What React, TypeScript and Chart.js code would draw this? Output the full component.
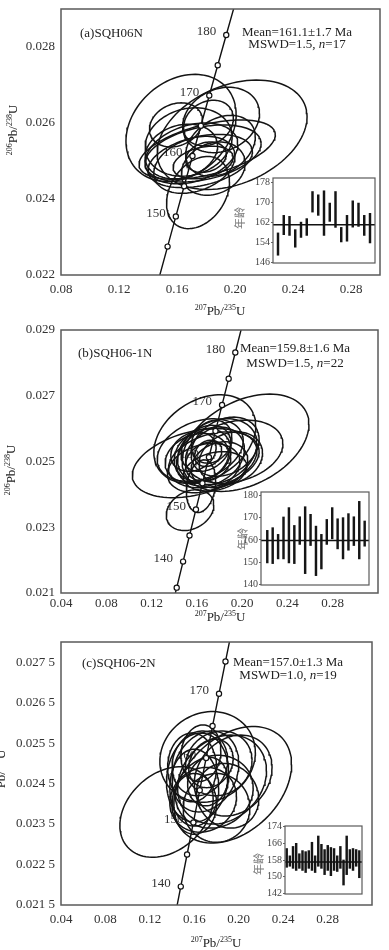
import React, { useEffect, useRef } from 'react';
import { Chart, registerables } from 'chart.js';

Chart.register(...registerables);

const SERIF = '"Liberation Serif", "Times New Roman", serif';
const CJK = '"Noto Sans CJK SC", "Noto Sans CJK JP", sans-serif';
Chart.defaults.font.family = SERIF;

// U-Pb decay constants (per year)
const LAMBDA_238 = 1.55125e-10;
const LAMBDA_235 = 9.8485e-10;
const r206_238 = (ma: number) => Math.exp(LAMBDA_238 * ma * 1e6) - 1;
const r207_235 = (ma: number) => Math.exp(LAMBDA_235 * ma * 1e6) - 1;

// ages (Ma) used to trace the concordia curve
const concordiaCurveAges = [110, 120, 130, 135, 140, 145, 150, 155, 160, 165, 170, 175, 180, 185, 190, 200, 210];

// ---------------- Panel (a) SQH06N ----------------
const aXTicks = [0.08, 0.12, 0.16, 0.2, 0.24, 0.28];
const aYTicks = [0.022, 0.024, 0.026, 0.028];
const aMarkerAges = [145, 150, 155, 160, 165, 170, 175, 180];
const aLabelAges = [150, 160, 170, 180];
const aEllX = [0.1628, 0.198, 0.1904, 0.1817, 0.1593, 0.1808, 0.178, 0.17, 0.163, 0.1745, 0.178, 0.18, 0.172, 0.19, 0.168, 0.185, 0.176];
const aEllY = [0.02587, 0.02569, 0.02608, 0.026, 0.02595, 0.0253, 0.0252, 0.0252, 0.02525, 0.02417, 0.02496, 0.0251, 0.0249, 0.0254, 0.0255, 0.0248, 0.025];
const aEllSx = [0.038, 0.0517, 0.0265, 0.0172, 0.0183, 0.047, 0.04, 0.032, 0.025, 0.0217, 0.0207, 0.014, 0.028, 0.024, 0.03, 0.022, 0.036];
const aEllSy = [0.00141, 0.00144, 0.00086, 0.0006, 0.00058, 0.00078, 0.00075, 0.0008, 0.00072, 0.00095, 0.00043, 0.0004, 0.00075, 0.0008, 0.0009, 0.0007, 0.0007];
const aEllRho = [0.25, 0.33, 0.2, 0.2, 0.2, 0.5, 0.35, 0.3, 0.2, 0.3, 0.3, 0.2, 0.3, 0.3, 0.15, 0.2, 0.35];
const aAgeLow = [148.9, 157.1, 156.8, 152.1, 156.0, 156.8, 166.1, 164.8, 156.8, 162.4, 160.0, 154.2, 154.5, 160.1, 160.4, 156.8, 153.8];
const aAgeHigh = [157.8, 164.8, 164.4, 159.1, 162.1, 163.5, 174.3, 173.0, 174.6, 169.7, 174.3, 160.0, 164.8, 170.6, 169.7, 164.8, 165.6];
const aInsetTicks = [146, 154, 162, 170, 178];
const aMean = 161.1;

// ---------------- Panel (b) SQH06-1N ----------------
const bXTicks = [0.04, 0.08, 0.12, 0.16, 0.2, 0.24, 0.28];
const bYTicks = [0.021, 0.023, 0.025, 0.027, 0.029];
const bMarkerAges = [135, 140, 145, 150, 155, 160, 165, 170, 175, 180];
const bLabelAges = [140, 150, 160, 170, 180];
const bEllX = [0.158, 0.203, 0.167, 0.193, 0.154, 0.1637, 0.172, 0.165, 0.178, 0.17, 0.168, 0.175, 0.16, 0.185, 0.173, 0.166, 0.18, 0.17, 0.163, 0.176, 0.19, 0.157];
const bEllY = [0.02495, 0.02557, 0.02568, 0.0253, 0.02352, 0.02425, 0.02515, 0.0252, 0.0253, 0.025, 0.0254, 0.02505, 0.0251, 0.02545, 0.0256, 0.0248, 0.0249, 0.02525, 0.02535, 0.0247, 0.0251, 0.0253];
const bEllSx = [0.055, 0.056, 0.045, 0.043, 0.021, 0.013, 0.03, 0.025, 0.035, 0.02, 0.022, 0.04, 0.028, 0.03, 0.018, 0.032, 0.025, 0.012, 0.038, 0.028, 0.028, 0.02];
const bEllSy = [0.00105, 0.00148, 0.00135, 0.00096, 0.00062, 0.0008, 0.0009, 0.0008, 0.001, 0.0006, 0.0007, 0.00085, 0.00075, 0.0009, 0.00065, 0.00075, 0.0007, 0.0004, 0.00095, 0.0006, 0.0008, 0.0006];
const bEllRho = [0.35, 0.38, 0.3, 0.25, 0.25, 0.2, 0.25, 0.2, 0.25, 0.2, 0.25, 0.3, 0.2, 0.25, 0.2, 0.25, 0.2, 0.2, 0.3, 0.25, 0.2, 0.2];
const bAgeLow = [149.7, 149.4, 151.5, 151.5, 149.7, 149.4, 158.0, 144.9, 157.5, 144.0, 147.0, 158.0, 160.5, 156.0, 151.5, 155.4, 157.5, 151.5, 157.2];
const bAgeHigh = [164.3, 165.5, 162.5, 170.3, 174.5, 166.5, 170.4, 174.9, 171.5, 166.2, 162.5, 169.2, 174.5, 169.5, 170.0, 171.8, 170.4, 177.3, 168.5];
const bInsetTicks = [140, 150, 160, 170, 180];
const bMean = 159.8;

// ---------------- Panel (c) SQH06-2N ----------------
const cXTicks = [0.04, 0.08, 0.12, 0.16, 0.2, 0.24, 0.28];
const cYTicks = [0.0215, 0.0225, 0.0235, 0.0245, 0.0255, 0.0265, 0.0275];
const cMarkerAges = [140, 145, 150, 155, 160, 165, 170, 175];
const cLabelAges = [140, 150, 160, 170];
const cEllX = [0.135, 0.1946, 0.172, 0.165, 0.17, 0.16, 0.178, 0.185, 0.168, 0.175, 0.158, 0.18, 0.163, 0.19, 0.172, 0.166, 0.182, 0.16, 0.195];
const cEllY = [0.0238, 0.02447, 0.02516, 0.025, 0.0248, 0.0244, 0.0243, 0.0246, 0.0241, 0.025, 0.0249, 0.0239, 0.02465, 0.0242, 0.02455, 0.02525, 0.025, 0.024, 0.0247];
const cEllSx = [0.042, 0.053, 0.043, 0.025, 0.03, 0.022, 0.035, 0.04, 0.03, 0.02, 0.022, 0.03, 0.028, 0.028, 0.018, 0.018, 0.03, 0.02, 0.035];
const cEllSy = [0.00112, 0.00144, 0.00112, 0.0008, 0.001, 0.00095, 0.0009, 0.0011, 0.0008, 0.0006, 0.00085, 0.00085, 0.0011, 0.0008, 0.0006, 0.0007, 0.0008, 0.00075, 0.001];
const cEllRho = [0.3, 0.35, 0.1, 0.1, 0.2, 0.0, 0.1, 0.2, 0.1, 0.2, 0.0, 0.0, 0.1, -0.1, 0.1, 0.1, 0.1, 0.0, 0.2];
const cAgeLow = [154.5, 155, 154, 153, 154, 153, 152, 154, 153, 152, 155, 154, 151, 153, 150.5, 153, 152.5, 154, 146, 151, 154, 153, 155, 149.5];
const cAgeHigh = [163.5, 160, 164.5, 166, 161, 162.5, 162, 162.5, 166.5, 160, 169.5, 165.5, 163, 165, 164, 163.5, 160, 164.5, 158, 169.5, 163, 163.5, 163, 162.5];
const cInsetTicks = [142, 150, 158, 166, 174];
const cMean = 157.0;

type Seg = { t: string; sup?: boolean; it?: boolean };

function drawRich(
  ctx: CanvasRenderingContext2D,
  segs: Seg[],
  x: number,
  y: number,
  align: 'left' | 'center' | 'right',
  size: number,
  color: string,
  rotate = false
) {
  ctx.save();
  ctx.translate(x, y);
  if (rotate) ctx.rotate(-Math.PI / 2);
  const supSize = Math.round(size * 0.62);
  const fontOf = (s: Seg) => `${s.it ? 'italic ' : ''}${s.sup ? supSize : size}px ${SERIF}`;
  let w = 0;
  for (const s of segs) {
    ctx.font = fontOf(s);
    w += ctx.measureText(s.t).width;
  }
  let cx = align === 'left' ? 0 : align === 'center' ? -w / 2 : -w;
  ctx.fillStyle = color;
  ctx.textAlign = 'left';
  ctx.textBaseline = 'alphabetic';
  for (const s of segs) {
    ctx.font = fontOf(s);
    ctx.fillText(s.t, cx, s.sup ? -size * 0.4 : 0);
    cx += ctx.measureText(s.t).width;
  }
  ctx.restore();
}

function ellipsePts(cx: number, cy: number, sx: number, sy: number, rho: number) {
  const pts: { x: number; y: number }[] = [];
  const k = Math.sqrt(1 - rho * rho);
  const N = 96;
  for (let i = 0; i <= N; i++) {
    const t = (i / N) * 2 * Math.PI;
    pts.push({ x: cx + sx * Math.cos(t), y: cy + sy * (rho * Math.cos(t) + k * Math.sin(t)) });
  }
  return pts;
}

interface PanelDef {
  top: number;
  height: number;
  area: { left: number; right: number; top: number; bottom: number };
  xMin: number; xMax: number; yMin: number; yMax: number;
  xTicks: number[]; yTicks: number[];
  yFmt: (v: number) => string;
  ellX: number[]; ellY: number[]; ellSx: number[]; ellSy: number[]; ellRho: number[];
  markerAges: number[]; labelAges: number[];
  name: string; mean: string; mswd: string; n: string;
  namePos: [number, number]; meanPos: [number, number]; mswdPos: [number, number];
  yTitle: [number, number]; xTitle: [number, number]; xTickPad: number;
}

interface InsetDef {
  left: number; top: number; width: number; height: number;
  box: { left: number; right: number; top: number; bottom: number };
  yMin: number; yMax: number; xMin: number; xMax: number;
  ticks: number[]; low: number[]; high: number[]; mean: number;
  labelPos: [number, number];
}

const fmt3 = (v: number) => v.toFixed(3);
const fmt4s = (v: number) => {
  const s = v.toFixed(4);
  return s.slice(0, 5) + ' ' + s.slice(5);
};

const PANELS: PanelDef[] = [
  {
    top: 0, height: 320,
    area: { left: 61, right: 380, top: 9, bottom: 275 },
    xMin: 0.08, xMax: 0.3, yMin: 0.022, yMax: 0.029,
    xTicks: aXTicks, yTicks: aYTicks, yFmt: fmt3,
    ellX: aEllX, ellY: aEllY, ellSx: aEllSx, ellSy: aEllSy, ellRho: aEllRho,
    markerAges: aMarkerAges, labelAges: aLabelAges,
    name: '(a)SQH06N', mean: 'Mean=161.1\u00b11.7 Ma', mswd: 'MSWD=1.5, ', n: '=17',
    namePos: [80, 37], meanPos: [297, 36], mswdPos: [297, 48],
    yTitle: [17, 130], xTitle: [220, 315], xTickPad: 7,
  },
  {
    top: 320, height: 310,
    area: { left: 61, right: 378, top: 330, bottom: 593 },
    xMin: 0.04, xMax: 0.32, yMin: 0.021, yMax: 0.029,
    xTicks: bXTicks, yTicks: bYTicks, yFmt: fmt3,
    ellX: bEllX, ellY: bEllY, ellSx: bEllSx, ellSy: bEllSy, ellRho: bEllRho,
    markerAges: bMarkerAges, labelAges: bLabelAges,
    name: '(b)SQH06-1N', mean: 'Mean=159.8\u00b11.6 Ma', mswd: 'MSWD=1.5, ', n: '=22',
    namePos: [78, 357], meanPos: [295, 352], mswdPos: [295, 367],
    yTitle: [15, 470], xTitle: [220, 621], xTickPad: 3,
  },
  {
    top: 630, height: 320,
    area: { left: 61, right: 372, top: 642, bottom: 905 },
    xMin: 0.04, xMax: 0.32, yMin: 0.0215, yMax: 0.028,
    xTicks: cXTicks, yTicks: cYTicks, yFmt: fmt4s,
    ellX: cEllX, ellY: cEllY, ellSx: cEllSx, ellSy: cEllSy, ellRho: cEllRho,
    markerAges: cMarkerAges, labelAges: cLabelAges,
    name: '(c)SQH06-2N', mean: 'Mean=157.0\u00b11.3 Ma', mswd: 'MSWD=1.0, ', n: '=19',
    namePos: [82, 667], meanPos: [288, 666], mswdPos: [288, 679],
    yTitle: [5, 775], xTitle: [216, 947], xTickPad: 7,
  },
];

const INSETS: InsetDef[] = [
  {
    left: 225, top: 170, width: 160, height: 100,
    box: { left: 273, right: 375, top: 178, bottom: 263 },
    yMin: 145.8, yMax: 179.7, xMin: 0.13, xMax: 17.87,
    ticks: aInsetTicks, low: aAgeLow, high: aAgeHigh, mean: aMean,
    labelPos: [240, 218],
  },
  {
    left: 225, top: 480, width: 155, height: 115,
    box: { left: 261, right: 369, top: 492, bottom: 585 },
    yMin: 139.8, yMax: 181.5, xMin: -0.16, xMax: 19.8,
    ticks: bInsetTicks, low: bAgeLow, high: bAgeHigh, mean: bMean,
    labelPos: [243, 539],
  },
  {
    left: 240, top: 815, width: 135, height: 90,
    box: { left: 285, right: 362, top: 826, bottom: 894 },
    yMin: 141.7, yMax: 174.3, xMin: 0.46, xMax: 24.85,
    ticks: cInsetTicks, low: cAgeLow, high: cAgeHigh, mean: cMean,
    labelPos: [259, 864],
  },
];

const W = 389;

function buildMain(canvas: HTMLCanvasElement, p: PanelDef) {
  const datasets: any[] = [];
  datasets.push({
    data: p.markerAges.map((a) => ({ x: r207_235(a), y: r206_238(a) })),
    showLine: false,
    pointRadius: 2.6,
    pointBackgroundColor: '#ffffff',
    pointBorderColor: '#111111',
    pointBorderWidth: 1.2,
  });
  p.ellX.forEach((cx, i) => {
    datasets.push({
      data: ellipsePts(cx, p.ellY[i], p.ellSx[i], p.ellSy[i], p.ellRho[i]),
      showLine: true,
      pointRadius: 0,
      borderColor: '#141414',
      borderWidth: 1.5,
      tension: 0,
    });
  });
  datasets.push({
    data: concordiaCurveAges.map((a) => ({ x: r207_235(a), y: r206_238(a) })),
    showLine: true,
    pointRadius: 0,
    borderColor: '#111111',
    borderWidth: 1.4,
    tension: 0,
  });

  const areaTop = p.area.top - p.top;
  const areaBottom = p.area.bottom - p.top;
  const off = p.top;

  const deco = {
    id: 'deco' + p.top,
    beforeDatasetsDraw(chart: any) {
      const ctx = chart.ctx as CanvasRenderingContext2D;
      const xs = chart.scales.x, ys = chart.scales.y;
      ctx.save();
      ctx.font = `13px ${SERIF}`;
      ctx.fillStyle = '#333';
      ctx.textAlign = 'right';
      ctx.textBaseline = 'middle';
      p.labelAges.forEach((a) => {
        const px = xs.getPixelForValue(r207_235(a));
        const py = ys.getPixelForValue(r206_238(a));
        ctx.fillText(String(a), px - 10, py - 3);
      });
      ctx.restore();
    },
    afterDraw(chart: any) {
      const ctx = chart.ctx as CanvasRenderingContext2D;
      const ca = chart.chartArea;
      ctx.save();
      ctx.strokeStyle = '#5a5a5a';
      ctx.lineWidth = 1.5;
      ctx.strokeRect(ca.left, ca.top, ca.right - ca.left, ca.bottom - ca.top);
      ctx.restore();
      drawRich(ctx, [{ t: p.name }], p.namePos[0], p.namePos[1] - off, 'left', 13, '#222');
      drawRich(ctx, [{ t: p.mean }], p.meanPos[0], p.meanPos[1] - off, 'center', 13, '#222');
      drawRich(ctx, [{ t: p.mswd }, { t: 'n', it: true }, { t: p.n }], p.mswdPos[0], p.mswdPos[1] - off, 'center', 13, '#222');
      drawRich(ctx, [{ t: '207', sup: true }, { t: 'Pb/' }, { t: '235', sup: true }, { t: 'U' }], p.xTitle[0], p.xTitle[1] - off, 'center', 13, '#222');
      drawRich(ctx, [{ t: '206', sup: true }, { t: 'Pb/' }, { t: '238', sup: true }, { t: 'U' }], p.yTitle[0], p.yTitle[1] - off, 'center', 13, '#222', true);
    },
  };

  return new Chart(canvas, {
    type: 'scatter',
    data: { datasets },
    options: {
      animation: false,
      responsive: false,
      events: [],
      layout: { padding: { left: 0, top: areaTop, right: W - p.area.right, bottom: 0 } },
      plugins: { legend: { display: false }, tooltip: { enabled: false }, title: { display: false } },
      scales: {
        x: {
          type: 'linear',
          min: p.xMin,
          max: p.xMax,
          grid: { display: false, drawTicks: false },
          border: { display: false },
          afterBuildTicks: (s: any) => {
            s.ticks = p.xTicks.map((v) => ({ value: v }));
          },
          afterFit: (s: any) => {
            s.height = p.height - areaBottom;
            s.paddingLeft = 0;
            s.paddingRight = 0;
          },
          ticks: {
            padding: p.xTickPad,
            color: '#333',
            font: { family: SERIF, size: 13 },
            maxRotation: 0,
            autoSkip: false,
            callback: (v: any) => Number(v).toFixed(2),
          },
        },
        y: {
          type: 'linear',
          min: p.yMin,
          max: p.yMax,
          grid: { display: false, drawTicks: false },
          border: { display: false },
          afterBuildTicks: (s: any) => {
            s.ticks = p.yTicks.map((v) => ({ value: v }));
          },
          afterFit: (s: any) => {
            s.width = p.area.left;
            s.paddingTop = 0;
            s.paddingBottom = 0;
          },
          ticks: {
            padding: 6,
            color: '#333',
            font: { family: SERIF, size: 13 },
            autoSkip: false,
            callback: (v: any) => p.yFmt(Number(v)),
          },
        },
      },
    } as any,
    plugins: [deco],
  } as any);
}

function buildInset(canvas: HTMLCanvasElement, d: InsetDef) {
  const boxLeft = d.box.left - d.left;
  const boxRight = d.box.right - d.left;
  const boxTop = d.box.top - d.top;
  const boxBottom = d.box.bottom - d.top;
  const deco = {
    id: 'insetDeco' + d.top,
    beforeDraw(chart: any) {
      const ctx = chart.ctx as CanvasRenderingContext2D;
      const ca = chart.chartArea;
      ctx.save();
      ctx.fillStyle = '#ffffff';
      ctx.fillRect(ca.left, ca.top, ca.right - ca.left, ca.bottom - ca.top);
      ctx.restore();
    },
    afterDraw(chart: any) {
      const ctx = chart.ctx as CanvasRenderingContext2D;
      const ca = chart.chartArea;
      ctx.save();
      ctx.strokeStyle = '#5a5a5a';
      ctx.lineWidth = 1.2;
      ctx.strokeRect(ca.left, ca.top, ca.right - ca.left, ca.bottom - ca.top);
      ctx.translate(d.labelPos[0] - d.left, d.labelPos[1] - d.top);
      ctx.rotate(-Math.PI / 2);
      ctx.font = `11px ${CJK}`;
      ctx.fillStyle = '#7a7a7a';
      ctx.textAlign = 'center';
      ctx.textBaseline = 'middle';
      ctx.fillText('年龄', 0, 0);
      ctx.restore();
    },
  };
  return new Chart(canvas, {
    type: 'bar',
    data: {
      datasets: [
        {
          type: 'line',
          data: [
            { x: d.xMin, y: d.mean },
            { x: d.xMax, y: d.mean },
          ],
          borderColor: '#111111',
          borderWidth: 1.5,
          pointRadius: 0,
          tension: 0,
        },
        {
          type: 'bar',
          data: d.low.map((lo, i) => ({ x: i + 1, y: [lo, d.high[i]] })),
          backgroundColor: '#151515',
          borderWidth: 0,
          barThickness: 1.8,
        },
      ],
    },
    options: {
      animation: false,
      responsive: false,
      events: [],
      layout: { padding: { left: 0, top: boxTop, right: d.width - boxRight, bottom: d.height - boxBottom } },
      plugins: { legend: { display: false }, tooltip: { enabled: false } },
      scales: {
        x: { type: 'linear', min: d.xMin, max: d.xMax, display: false, offset: false },
        y: {
          type: 'linear',
          min: d.yMin,
          max: d.yMax,
          grid: { display: true, drawOnChartArea: false, drawTicks: true, tickLength: 2, color: '#666' },
          border: { display: false },
          afterBuildTicks: (s: any) => {
            s.ticks = d.ticks.map((v) => ({ value: v }));
          },
          afterFit: (s: any) => {
            s.width = boxLeft;
            s.paddingTop = 0;
            s.paddingBottom = 0;
          },
          ticks: {
            padding: 1,
            color: '#444',
            font: { family: SERIF, size: 10 },
            autoSkip: false,
            callback: (v: any) => String(Math.round(Number(v))),
          },
        },
      },
    } as any,
    plugins: [deco],
  } as any);
}

export default function App() {
  const mainRefs = useRef<(HTMLCanvasElement | null)[]>([]);
  const insetRefs = useRef<(HTMLCanvasElement | null)[]>([]);

  useEffect(() => {
    const charts: Chart[] = [];
    PANELS.forEach((p, i) => {
      const c = mainRefs.current[i];
      if (c) charts.push(buildMain(c, p));
    });
    INSETS.forEach((d, i) => {
      const c = insetRefs.current[i];
      if (c) charts.push(buildInset(c, d));
    });
    return () => charts.forEach((c) => c.destroy());
  }, []);

  return (
    <div style={{ position: 'absolute', left: 0, top: 0, width: W, height: 950, background: '#ffffff', overflow: 'hidden' }}>
      {PANELS.map((p, i) => (
        <canvas
          key={'m' + i}
          ref={(el) => {
            mainRefs.current[i] = el;
          }}
          width={W}
          height={p.height}
          style={{ position: 'absolute', left: 0, top: p.top, width: W, height: p.height }}
        />
      ))}
      {INSETS.map((d, i) => (
        <canvas
          key={'i' + i}
          ref={(el) => {
            insetRefs.current[i] = el;
          }}
          width={d.width}
          height={d.height}
          style={{ position: 'absolute', left: d.left, top: d.top, width: d.width, height: d.height }}
        />
      ))}
    </div>
  );
}
